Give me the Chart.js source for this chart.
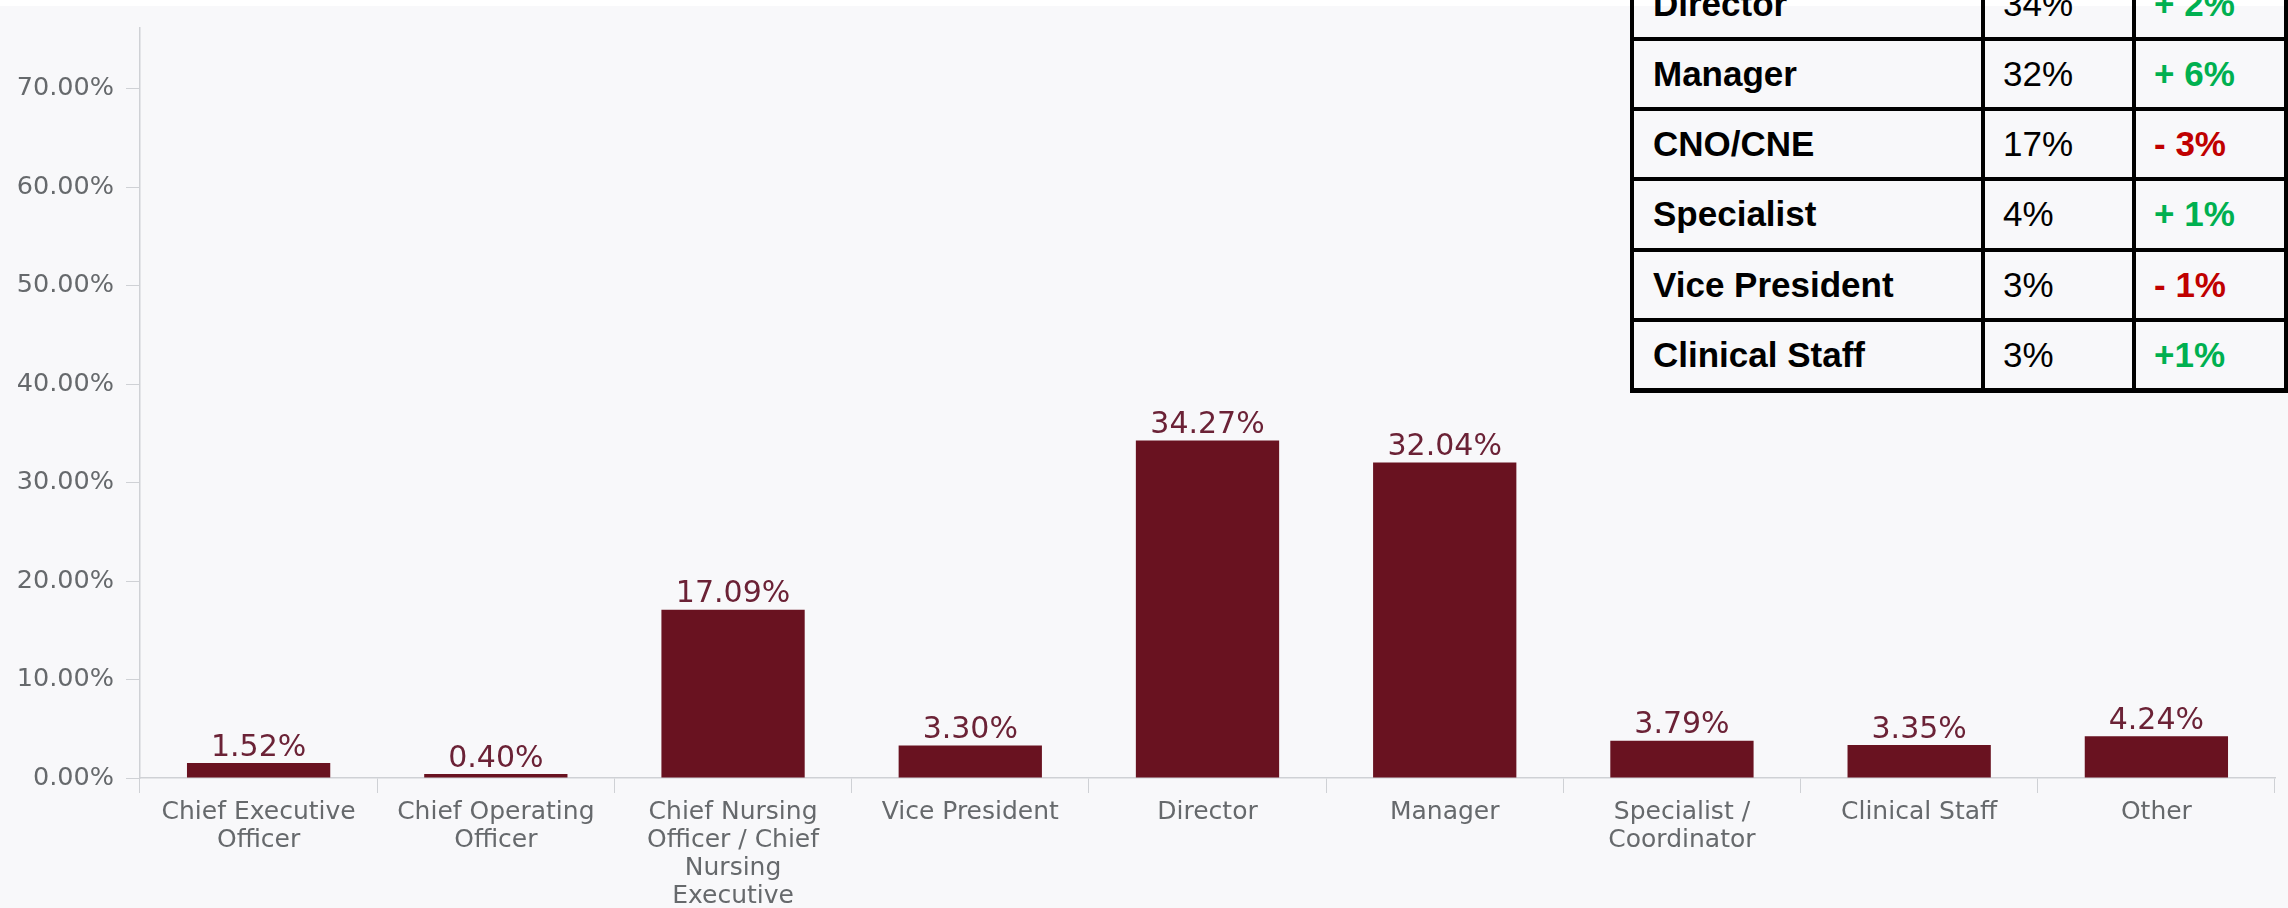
<!DOCTYPE html>
<html>
<head>
<meta charset="utf-8">
<title>Respondents by role</title>
<script src="https://cdn.jsdelivr.net/npm/chart.js@4.4.1/dist/chart.umd.min.js"></script>
<style>
    html, body { margin: 0; padding: 0; }
    body {
        width: 2288px;
        height: 908px;
        overflow: hidden;
        position: relative;
        background: linear-gradient(#ffffff 0 6px, #f8f8fa 6px);
    }
    #chart-wrap { position: absolute; left: 0; top: 0; width: 2288px; height: 908px; }
    #summary { position: absolute; left: 0; top: 0; width: 2288px; height: 908px; pointer-events: none; }
    #summary .rule { position: absolute; background: #000; }
    #summary .cell {
        position: absolute;
        font-family: 'Liberation Sans', Arial, sans-serif;
        font-size: 35px;
        line-height: 68px;
        white-space: nowrap;
        color: #000;
    }
    #summary .role { font-weight: bold; }
    #summary .delta { font-weight: bold; }
    #summary .up { color: #00b050; }
    #summary .down { color: #c00000; }
</style>
</head>
<body>
<div id="summary"></div>
<div id="chart-wrap"><canvas id="chart"></canvas></div>
<script>
// Bar chart data
const CATEGORIES = [
    ['Chief Executive', 'Officer'],
    ['Chief Operating', 'Officer'],
    ['Chief Nursing', 'Officer / Chief', 'Nursing', 'Executive'],
    'Vice President',
    'Director',
    'Manager',
    ['Specialist /', 'Coordinator'],
    'Clinical Staff',
    'Other'
];
const SHARES = [1.52, 0.40, 17.09, 3.30, 34.27, 32.04, 3.79, 3.35, 4.24];
const Y_TICKS = [0, 10, 20, 30, 40, 50, 60, 70];
const Y_MAX = 76.25;

// Summary table (top right)
const TABLE_ROLES = ['Director', 'Manager', 'CNO/CNE', 'Specialist', 'Vice President', 'Clinical Staff'];
const TABLE_SHARES = ['34%', '32%', '17%', '4%', '3%', '3%'];
const TABLE_CHANGES = ['+ 2%', '+ 6%', '- 3%', '+ 1%', '- 1%', '+1%'];

const BAR_COLOR = '#691220';
const LABEL_COLOR = '#6b2236';
const AXIS_TEXT = '#66696c';
const AXIS_LINE = '#cfd1d5';

function buildSummaryTable() {
    const root = document.getElementById('summary');
    const colX = [1632, 1983, 2134, 2286];
    const rowTop = -31.2;
    const rowH = 70.2;
    const textPad = [21, 20, 20];

    const addRule = (left, top, width, height) => {
        const d = document.createElement('div');
        d.className = 'rule';
        Object.assign(d.style, { left: left + 'px', top: top + 'px', width: width + 'px', height: height + 'px' });
        root.appendChild(d);
    };

    const bottom = rowTop + rowH * TABLE_ROLES.length;
    for (let r = 0; r <= TABLE_ROLES.length; r++) {
        const y = rowTop + r * rowH;
        const h = r === TABLE_ROLES.length ? 5 : 4;
        addRule(colX[0] - 2, y - 2, colX[3] - colX[0] + 4, h);
    }
    for (const x of colX) {
        addRule(x - 2, rowTop - 2, 4, bottom - rowTop + 5);
    }

    TABLE_ROLES.forEach((role, r) => {
        const values = [role, TABLE_SHARES[r], TABLE_CHANGES[r]];
        values.forEach((text, c) => {
            const d = document.createElement('div');
            d.className = 'cell';
            if (c === 0) d.classList.add('role');
            if (c === 2) {
                d.classList.add('delta');
                d.classList.add(text.trim().startsWith('-') ? 'down' : 'up');
            }
            d.textContent = text;
            d.style.left = (colX[c] + textPad[c]) + 'px';
            d.style.top = (rowTop + r * rowH + 1) + 'px';
            root.appendChild(d);
        });
    });
}

// draws the value above each bar
const valueLabels = {
    id: 'valueLabels',
    afterDatasetsDraw(chart) {
        const { ctx } = chart;
        const meta = chart.getDatasetMeta(0);
        ctx.save();
        ctx.font = '30px "DejaVu Sans"';
        ctx.fillStyle = LABEL_COLOR;
        ctx.textAlign = 'center';
        ctx.textBaseline = 'alphabetic';
        meta.data.forEach((bar, i) => {
            ctx.fillText(SHARES[i].toFixed(2) + '%', bar.x, bar.y - 7.5);
        });
        ctx.restore();
    }
};

buildSummaryTable();

new Chart(document.getElementById('chart'), {
    type: 'bar',
    data: {
        labels: CATEGORIES,
        datasets: [{
            data: SHARES,
            backgroundColor: BAR_COLOR,
            borderWidth: 0,
            barPercentage: 0.604,
            categoryPercentage: 1
        }]
    },
    options: {
        responsive: true,
        maintainAspectRatio: false,
        animation: false,
        layout: { padding: { top: 6, right: 13, left: 0, bottom: 0 } },
        plugins: {
            legend: { display: false },
            tooltip: { enabled: false }
        },
        scales: {
            x: {
                afterFit: (scale) => { scale.height = 130; },
                border: { display: true, color: AXIS_LINE, width: 1.5 },
                grid: { drawOnChartArea: false, drawTicks: true, tickLength: 15, color: AXIS_LINE, offset: true },
                ticks: {
                    color: AXIS_TEXT,
                    font: { family: 'DejaVu Sans', size: 25, lineHeight: 1.12 },
                    padding: 5,
                    maxRotation: 0,
                    autoSkip: false
                }
            },
            y: {
                min: 0,
                max: Y_MAX,
                afterFit: (scale) => { scale.width = 140; },
                afterBuildTicks: (scale) => { scale.ticks = Y_TICKS.map(v => ({ value: v })); },
                border: { display: true, color: AXIS_LINE, width: 1.5 },
                grid: { drawOnChartArea: false, drawTicks: true, tickLength: 14, color: AXIS_LINE },
                ticks: {
                    color: AXIS_TEXT,
                    font: { family: 'DejaVu Sans', size: 25.5 },
                    padding: 12,
                    callback: (v) => Number(v).toFixed(2) + '%'
                }
            }
        }
    },
    plugins: [valueLabels]
});
</script>
</body>
</html>
